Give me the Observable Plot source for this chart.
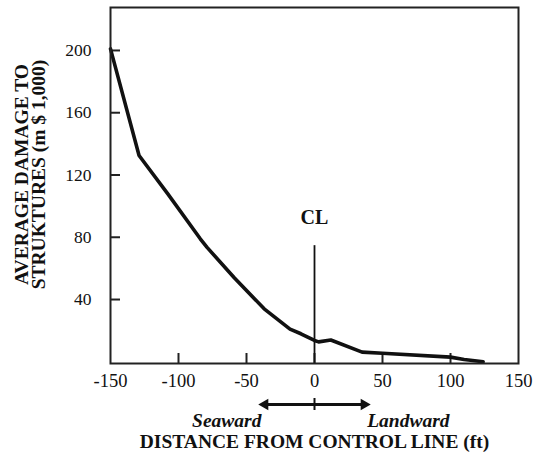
<!DOCTYPE html>
<html>
<head>
<meta charset="utf-8">
<script src="https://cdn.jsdelivr.net/npm/d3@7"></script>
<script src="https://cdn.jsdelivr.net/npm/@observablehq/plot@0.6"></script>
<style>
  html, body { margin: 0; padding: 0; background: #fff; }
</style>
</head>
<body>
<div id="chart"></div>
<script>
// ---- data ----
const distance = [-150, -129, -108, -84, -79, -59, -37, -18, -10, 0, 3, 12, 35, 50, 100, 110, 124];
const damage   = [201, 132.5, 108, 79, 73.5, 54, 34, 21, 18, 13.7, 12.8, 14, 6.2, 5.5, 3, 1.5, 0];

const xTickLabels = [-150, -100, -50, 0, 50, 100, 150];
const xInnerTicks = [-100, -50, 0, 50, 100];
const yTickLabels = [40, 80, 120, 160, 200];

const controlLineX = [0];
const controlLineTop = 74.6;
const controlLabel = "CL";
const controlLabelY = 92.8;

const arrowEnds = [-41.2, 41.2];
const seawardLabel = "Seaward";
const landwardLabel = "Landward";
const seawardX = -39;
const landwardX = 38.7;

const xTitle = "DISTANCE FROM CONTROL LINE (ft)";
const yTitle = "AVERAGE DAMAGE TO\nSTRUKTURES (m $ 1,000)";

const xDomain = [-150, 150];
const yDomain = [-1.1, 227.6];

// ---- build ----
const data = distance.map((d, i) => ({distance: d, damage: damage[i]}));

const W = 533, H = 457, mL = 110, mR = 15, mT = 7, mB = 94;
const ink = "#111";
const headOffsetPx = 6.5;
const pxPerUnit = (W - mL - mR) / (xDomain[1] - xDomain[0]);
const shaft = arrowEnds.map(e => ({x1: 0, x2: e - Math.sign(e) * headOffsetPx / pxPerUnit}));
const heads = arrowEnds.map(e => ({x: e, rot: e < 0 ? -90 : 90, dx: e < 0 ? headOffsetPx : -headOffsetPx}));
const arrowDy = 42.7;

const chart = Plot.plot({
  width: W, height: H,
  marginLeft: mL, marginRight: mR, marginTop: mT, marginBottom: mB,
  style: {fontFamily: "'Liberation Serif', 'Times New Roman', serif", background: "#fff", color: ink},
  x: {type: "linear", domain: xDomain, label: null},
  y: {type: "linear", domain: yDomain, label: null},
  marks: [
    Plot.tickY(yTickLabels, {y: d => d, insetRight: (W - mL - mR) - 10, stroke: "#222", strokeWidth: 2}),
    Plot.tickX(xInnerTicks, {x: d => d, insetTop: (H - mT - mB) - 10, stroke: "#222", strokeWidth: 2}),
    Plot.axisX({ticks: xTickLabels, tickSize: 0, tickPadding: 10, fontSize: 18.5, tickFormat: d => String(d), label: null}),
    Plot.axisY({ticks: yTickLabels, tickSize: 0, tickPadding: 19, fontSize: 17.5, tickFormat: d => String(d), label: null}),
    Plot.ruleX(controlLineX, {x: d => d, y1: controlLineTop, y2: yDomain[0], stroke: ink, strokeWidth: 1.8}),
    Plot.text([controlLabel], {x: controlLineX[0], y: controlLabelY, text: d => d, fontWeight: "bold", fontSize: 20}),
    Plot.line(data, {x: "distance", y: "damage", stroke: ink, strokeWidth: 3.6, strokeLinejoin: "round", strokeLinecap: "round"}),
    Plot.frame({stroke: "#222", strokeWidth: 2}),
    // direction arrow below axis
    Plot.link(shaft, {x1: "x1", x2: "x2", y1: 0, y2: 0, dy: arrowDy, stroke: ink, strokeWidth: 3}),
    Plot.dot(heads.slice(0, 1), {x: "x", y: 0, dy: arrowDy, dx: heads[0].dx, symbol: "triangle", rotate: heads[0].rot, r: 4.3, fill: ink, stroke: "none"}),
    Plot.dot(heads.slice(1, 2), {x: "x", y: 0, dy: arrowDy, dx: heads[1].dx, symbol: "triangle", rotate: heads[1].rot, r: 4.3, fill: ink, stroke: "none"}),
    Plot.ruleX(controlLineX, {x: d => d, y1: 0, y2: 0, dy: arrowDy, insetTop: -6, insetBottom: -6, stroke: ink, strokeWidth: 2}),
    Plot.text([seawardLabel], {x: seawardX, y: 0, dy: 58.7, text: d => d, textAnchor: "end", fontStyle: "italic", fontWeight: "bold", fontSize: 19.5}),
    Plot.text([landwardLabel], {x: landwardX, y: 0, dy: 58.7, text: d => d, textAnchor: "start", fontStyle: "italic", fontWeight: "bold", fontSize: 19.5}),
    Plot.text([xTitle], {frameAnchor: "bottom", dy: 78, lineAnchor: "middle", text: d => d, fontWeight: "bold", fontSize: 19.5}),
    Plot.text([yTitle], {frameAnchor: "left", rotate: -90, dx: -79.2, dy: -11, lineAnchor: "middle", textAnchor: "middle", lineHeight: 0.86, text: d => d, fontWeight: "bold", fontSize: 19.5})
  ]
});
document.getElementById("chart").appendChild(chart);
</script>
</body>
</html>
